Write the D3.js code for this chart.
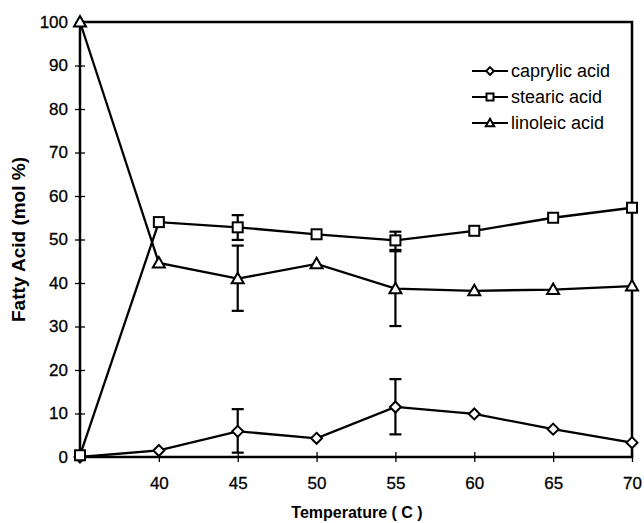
<!DOCTYPE html>
<html>
<head>
<meta charset="utf-8">
<script src="https://cdn.jsdelivr.net/npm/d3@7"></script>
<style>
  body { margin: 0; background: #fff; }
  text { font-family: "Liberation Sans", Arial, sans-serif; }
</style>
</head>
<body>
<svg id="chart" width="644" height="523"></svg>
<script>
// data
const temps = [35, 40, 45, 50, 55, 60, 65, 70];
const caprylic = [0, 1.5, 5.9, 4.3, 11.5, 9.9, 6.4, 3.3];
const stearic = [0.4, 54.0, 52.8, 51.2, 49.8, 52.0, 55.0, 57.3];
const linoleic = [100, 44.6, 41.0, 44.4, 38.7, 38.2, 38.5, 39.3];

// error bars: [temp, low, high]
const caprylicErr = [[45, 1.0, 11.0], [55, 5.2, 17.9]];
const stearicErr = [[45, 49.9, 55.6], [55, 47.6, 51.8]];
const linoleicErr = [[45, 33.6, 48.6], [55, 30.1, 47.3]];

const xTicks = [40, 45, 50, 55, 60, 65, 70];
const yTicks = [0, 10, 20, 30, 40, 50, 60, 70, 80, 90, 100];

const plotL = 80, plotR = 632, plotT = 22, plotB = 457;

const svg = d3.select('#chart');
const x = d3.scaleLinear().domain([35, 70]).range([plotL, plotR]);
const y = d3.scaleLinear().domain([0, 100]).range([plotB, plotT]);

// frame
svg.append('rect').attr('x', plotL).attr('y', plotT)
  .attr('width', plotR - plotL).attr('height', plotB - plotT)
  .attr('fill', 'none').attr('stroke', '#000').attr('stroke-width', 2.5);

// y axis with crossing ticks
const yAxis = svg.append('g').attr('transform', `translate(${plotL},0)`)
  .call(d3.axisLeft(y).tickValues(yTicks).tickSize(5).tickPadding(7));
yAxis.select('.domain').remove();
yAxis.selectAll('.tick line').attr('x2', 5).attr('x1', -5).attr('stroke-width', 1.3);
yAxis.selectAll('text').attr('font-size', 17).attr('fill', '#000')
  .attr('stroke', '#000').attr('stroke-width', 0.3);

// x axis with crossing ticks
const xAxis = svg.append('g').attr('transform', `translate(0,${plotB})`)
  .call(d3.axisBottom(x).tickValues(xTicks).tickSize(5).tickPadding(15));
xAxis.select('.domain').remove();
xAxis.selectAll('.tick line').attr('y1', -5).attr('y2', 5).attr('stroke-width', 1.3);
xAxis.selectAll('text').attr('font-size', 17).attr('fill', '#000')
  .attr('stroke', '#000').attr('stroke-width', 0.3);

// axis titles
svg.append('text').attr('x', 357).attr('y', 518).attr('text-anchor', 'middle')
  .attr('font-size', 16).attr('font-weight', 'bold').text('Temperature (  C )');
svg.append('text').attr('transform', `translate(25,${(plotT + plotB) / 2}) rotate(-90)`)
  .attr('text-anchor', 'middle').attr('font-size', 19).attr('font-weight', 'bold')
  .text('Fatty Acid (mol %)');

const line = d3.line().x(d => x(d[0])).y(d => y(d[1]));

const series = [
  { name: 'caprylic acid', vals: caprylic, err: caprylicErr, shape: 'diamond' },
  { name: 'stearic acid', vals: stearic, err: stearicErr, shape: 'square' },
  { name: 'linoleic acid', vals: linoleic, err: linoleicErr, shape: 'triangle' }
];

function marker(g, shape, cx, cy, r) {
  if (shape === 'square') {
    g.append('rect').attr('x', cx - r).attr('y', cy - r).attr('width', 2 * r).attr('height', 2 * r)
      .attr('fill', '#fff').attr('stroke', '#000').attr('stroke-width', 2);
  } else if (shape === 'diamond') {
    const d = r * 1.1;
    g.append('path').attr('d', `M${cx},${cy - d}L${cx + d},${cy}L${cx},${cy + d}L${cx - d},${cy}Z`)
      .attr('fill', '#fff').attr('stroke', '#000').attr('stroke-width', 2);
  } else {
    const d = r * 1.2;
    g.append('path').attr('d', `M${cx},${cy - d}L${cx + d},${cy + d * 0.75}L${cx - d},${cy + d * 0.75}Z`)
      .attr('fill', '#fff').attr('stroke', '#000').attr('stroke-width', 2);
  }
}

const plot = svg.append('g');

series.forEach(s => {
  const pts = temps.map((t, i) => [t, s.vals[i]]);
  // error bars
  s.err.forEach(e => {
    const g = plot.append('g').attr('stroke', '#000').attr('stroke-width', 2.2);
    g.append('line').attr('x1', x(e[0])).attr('x2', x(e[0])).attr('y1', y(e[1])).attr('y2', y(e[2]));
    [e[1], e[2]].forEach(v => {
      g.append('line').attr('x1', x(e[0]) - 6).attr('x2', x(e[0]) + 6).attr('y1', y(v)).attr('y2', y(v));
    });
  });
  plot.append('path').attr('d', line(pts)).attr('fill', 'none')
    .attr('stroke', '#000').attr('stroke-width', 2.3);
});

series.forEach(s => {
  const g = plot.append('g');
  temps.forEach((t, i) => marker(g, s.shape, x(t), y(s.vals[i]), 5));
});

// legend
const legend = svg.append('g');
series.forEach((s, i) => {
  const ly = 71 + i * 26;
  legend.append('line').attr('x1', 472).attr('x2', 508).attr('y1', ly).attr('y2', ly)
    .attr('stroke', '#000').attr('stroke-width', 2);
  marker(legend, s.shape, 490, ly, 3.5);
  legend.append('text').attr('x', 511).attr('y', ly + 6).attr('font-size', 18).text(s.name);
});
</script>
</body>
</html>
